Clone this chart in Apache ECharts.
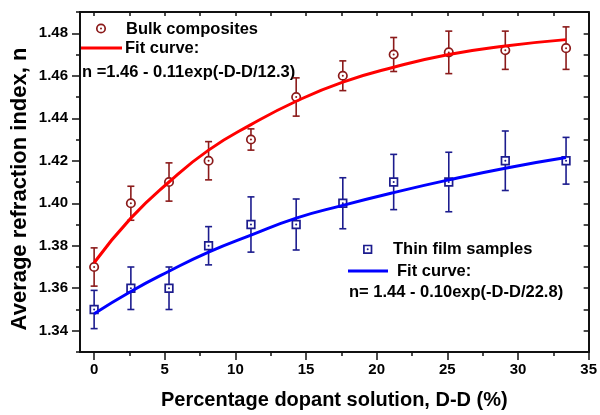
<!DOCTYPE html>
<html>
<head>
<meta charset="utf-8">
<script src="https://cdn.jsdelivr.net/npm/echarts@6/dist/echarts.min.js"></script>
<style>
  html, body { margin: 0; padding: 0; background: #fff; }
  #chart { width: 600px; height: 415px; }
</style>
</head>
<body>
<div id="chart"></div>
<script>
// dopant solution percentage (x) for every sample
const doping = [0, 2.6, 5.3, 8.1, 11.1, 14.3, 17.6, 21.2, 25.1, 29.1, 33.4];

// bulk composites: measured n and error
const bulkN = [1.370, 1.400, 1.410, 1.420, 1.430, 1.450, 1.460, 1.470, 1.471, 1.472, 1.473];
const bulkErr = [0.009, 0.008, 0.009, 0.009, 0.005, 0.009, 0.007, 0.008, 0.010, 0.009, 0.010];
// fit curve
const bulkFit = [1.372, 1.393, 1.410, 1.425, 1.437, 1.448, 1.457, 1.464, 1.470, 1.474, 1.477];

// thin film samples
const filmN = [1.350, 1.360, 1.360, 1.380, 1.390, 1.390, 1.400, 1.410, 1.410, 1.420, 1.420];
const filmErr = [0.009, 0.010, 0.010, 0.009, 0.013, 0.012, 0.012, 0.013, 0.014, 0.014, 0.011];
const filmFit = [1.348, 1.3585, 1.368, 1.377, 1.385, 1.393, 1.399, 1.405, 1.411, 1.4165, 1.4215];

// axis ticks
const xMajor = [0, 5, 10, 15, 20, 25, 30, 35];
const xMinor = [2.5, 7.5, 12.5, 17.5, 22.5, 27.5, 32.5];
const yMajor = [1.34, 1.36, 1.38, 1.40, 1.42, 1.44, 1.46, 1.48];
const yMinor = [1.33, 1.35, 1.37, 1.39, 1.41, 1.43, 1.45, 1.47, 1.49];
const xAll = [0, 2.5, 5, 7.5, 10, 12.5, 15, 17.5, 20, 22.5, 25, 27.5, 30, 32.5, 35];
const yAll = yMajor.concat(yMinor);

// texts
const xTitle = 'Percentage dopant solution, D-D (%)';
const yTitle = 'Average refraction index, n';
const bulkLabel = 'Bulk composites';
const filmLabel = 'Thin film samples';
const fitLabel = 'Fit curve:';
const bulkEq = 'n =1.46 - 0.11exp(-D-D/12.3)';
const filmEq = 'n= 1.44 - 0.10exp(-D-D/22.8)';

const darkRed = '#8b1a1a';
const navy = '#1c1c8e';
const axisColor = '#111';
const font = 'Liberation Sans, Arial, sans-serif';

function pts(ys, errs) {
  return doping.map((x, i) => errs ? [x, ys[i], errs[i]] : [x, ys[i]]);
}

// error bar + marker drawn through the axes
function errRender(color, shape) {
  return function (params, api) {
    const x = api.value(0), y = api.value(1), e = api.value(2);
    const c = api.coord([x, y]);
    const t = api.coord([x, y + e]);
    const b = api.coord([x, y - e]);
    const st = { stroke: color, lineWidth: 1.6 };
    const kids = [
      { type: 'line', shape: { x1: c[0], y1: t[1], x2: c[0], y2: b[1] }, style: st },
      { type: 'line', shape: { x1: c[0] - 3.5, y1: t[1], x2: c[0] + 3.5, y2: t[1] }, style: st },
      { type: 'line', shape: { x1: c[0] - 3.5, y1: b[1], x2: c[0] + 3.5, y2: b[1] }, style: st }
    ];
    kids.push(marker(shape, c[0], c[1], color));
    kids.push({ type: 'circle', shape: { cx: c[0], cy: c[1], r: 1 }, style: { fill: color } });
    return { type: 'group', children: kids };
  };
}

function marker(shape, x, y, color) {
  if (shape === 'circle')
    return { type: 'circle', shape: { cx: x, cy: y, r: 4.2 }, style: { fill: '#fff', stroke: color, lineWidth: 1.7 } };
  return { type: 'rect', shape: { x: x - 3.8, y: y - 3.8, width: 7.6, height: 7.6 }, style: { fill: '#fff', stroke: color, lineWidth: 1.7 } };
}

const chart = echarts.init(document.getElementById('chart'), null, { renderer: 'canvas' });

const lblStyle = { fontFamily: font, fontWeight: 'bold', fontSize: 15, color: '#000' };
const legStyle = { fontFamily: font, fontWeight: 'bold', fontSize: 16.5, fill: '#000', verticalAlign: 'middle' };

chart.setOption({
  animation: false,
  backgroundColor: '#fff',
  grid: { left: 80, right: 8, top: 12, bottom: 61 },
  xAxis: [
    {
      type: 'value', min: -1, max: 35, position: 'bottom',
      name: xTitle, nameLocation: 'middle', nameGap: 38,
      nameTextStyle: { fontFamily: font, fontWeight: 'bold', fontSize: 20, color: '#000' },
      axisLine: { show: true, onZero: false, lineStyle: { color: axisColor, width: 2 } },
      axisTick: { show: true, customValues: xMajor, length: 8, inside: false, lineStyle: { color: axisColor, width: 1.5 } },
      axisLabel: Object.assign({ customValues: xMajor, margin: 10, formatter: v => String(v) }, lblStyle),
      splitLine: { show: false }
    },
    {
      type: 'value', min: -1, max: 35, position: 'bottom',
      axisLine: { show: false, onZero: false },
      axisTick: { show: true, customValues: xMinor, length: 4, lineStyle: { color: axisColor, width: 1.5 } },
      axisLabel: { show: false },
      splitLine: { show: false }
    },
    {
      type: 'value', min: -1, max: 35, position: 'top',
      axisLine: { show: true, onZero: false, lineStyle: { color: axisColor, width: 2 } },
      axisTick: { show: true, customValues: xAll, length: 4, inside: true, lineStyle: { color: axisColor, width: 1.5 } },
      axisLabel: { show: false },
      splitLine: { show: false }
    }
  ],
  yAxis: [
    {
      type: 'value', min: 1.33, max: 1.49, position: 'left',
      axisLine: { show: true, onZero: false, lineStyle: { color: axisColor, width: 2 } },
      axisTick: { show: true, customValues: yMajor, length: 8, lineStyle: { color: axisColor, width: 1.5 } },
      axisLabel: Object.assign({ customValues: yMajor, margin: 12, formatter: v => v.toFixed(2) }, lblStyle),
      splitLine: { show: false }
    },
    {
      type: 'value', min: 1.33, max: 1.49, position: 'left',
      axisLine: { show: false, onZero: false },
      axisTick: { show: true, customValues: yMinor, length: 4, lineStyle: { color: axisColor, width: 1.5 } },
      axisLabel: { show: false },
      splitLine: { show: false }
    },
    {
      type: 'value', min: 1.33, max: 1.49, position: 'right',
      axisLine: { show: true, onZero: false, lineStyle: { color: axisColor, width: 2 } },
      axisTick: { show: true, customValues: yAll, length: 5, inside: true, lineStyle: { color: axisColor, width: 1.5 } },
      axisLabel: { show: false },
      splitLine: { show: false }
    }
  ],
  series: [
    {
      name: bulkLabel, type: 'custom', xAxisIndex: 0, yAxisIndex: 0, z: 3,
      renderItem: errRender(darkRed, 'circle'), data: pts(bulkN, bulkErr)
    },
    {
      name: filmLabel, type: 'custom', xAxisIndex: 0, yAxisIndex: 0, z: 3,
      renderItem: errRender(navy, 'square'), data: pts(filmN, filmErr)
    },
    {
      name: 'bulk fit', type: 'line', smooth: true, showSymbol: false, z: 4,
      lineStyle: { color: '#ff0000', width: 3 }, data: pts(bulkFit)
    },
    {
      name: 'film fit', type: 'line', smooth: true, showSymbol: false, z: 4,
      lineStyle: { color: '#0000ff', width: 3 }, data: pts(filmFit)
    }
  ],
  graphic: [
    // y axis title
    {
      type: 'text', x: 20, y: 189, rotation: Math.PI / 2,
      style: { text: yTitle, fontFamily: font, fontWeight: 'bold', fontSize: 22, fill: '#000', align: 'center', verticalAlign: 'middle' }
    },
    // bulk legend
    { type: 'circle', shape: { cx: 101, cy: 28.5, r: 4.2 }, style: { fill: '#fff', stroke: darkRed, lineWidth: 1.7 } },
    { type: 'circle', shape: { cx: 101, cy: 28.5, r: 1 }, style: { fill: darkRed } },
    { type: 'text', x: 126, y: 29, style: Object.assign({ text: bulkLabel }, legStyle) },
    { type: 'line', shape: { x1: 81, y1: 48, x2: 122, y2: 48 }, style: { stroke: '#ff0000', lineWidth: 3 } },
    { type: 'text', x: 125, y: 48, style: Object.assign({ text: fitLabel }, legStyle) },
    { type: 'text', x: 82, y: 72, style: Object.assign({ text: bulkEq }, legStyle) },
    // thin film legend
    { type: 'rect', shape: { x: 363.9, y: 245.5, width: 7.6, height: 7.6 }, style: { fill: '#fff', stroke: navy, lineWidth: 1.7 } },
    { type: 'circle', shape: { cx: 367.7, cy: 249.3, r: 1 }, style: { fill: navy } },
    { type: 'text', x: 393, y: 249, style: Object.assign({ text: filmLabel }, legStyle) },
    { type: 'line', shape: { x1: 348, y1: 271, x2: 388, y2: 271 }, style: { stroke: '#0000ff', lineWidth: 3 } },
    { type: 'text', x: 397, y: 271, style: Object.assign({ text: fitLabel }, legStyle) },
    { type: 'text', x: 349, y: 292, style: Object.assign({ text: filmEq }, legStyle) }
  ]
});
</script>
</body>
</html>
